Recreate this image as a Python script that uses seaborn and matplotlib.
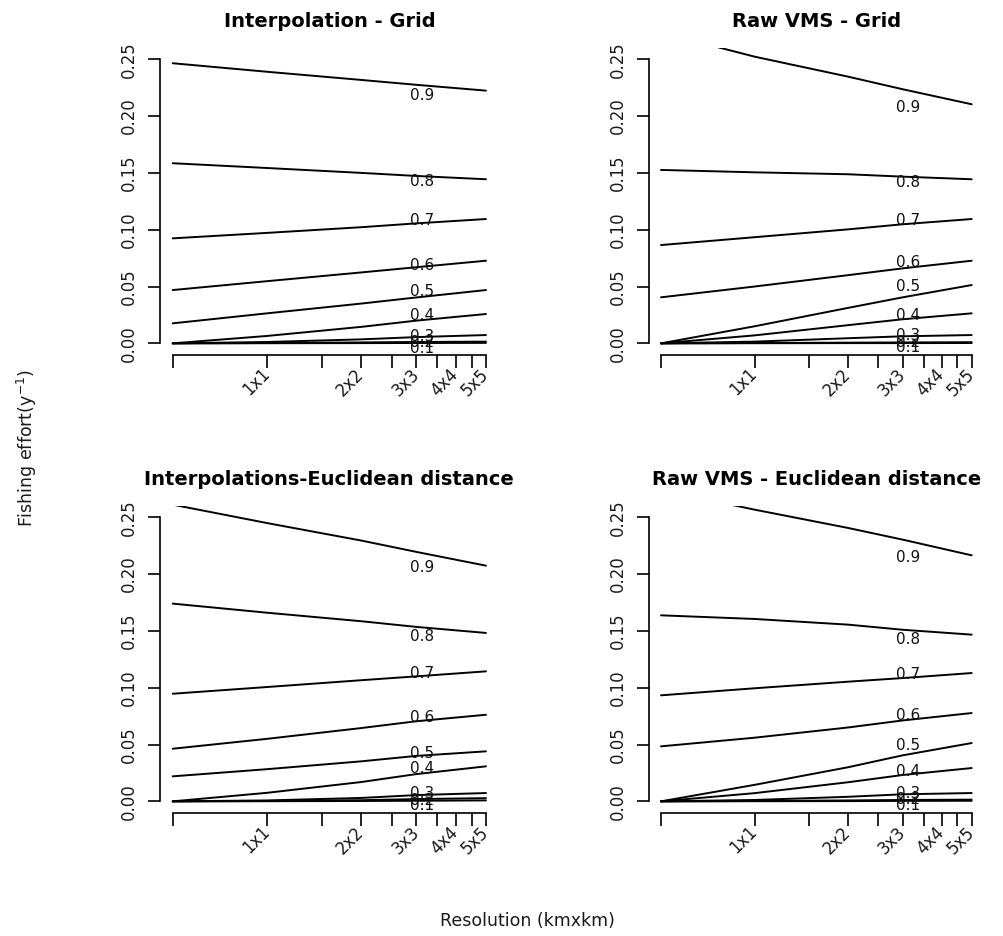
import matplotlib
matplotlib.use("Agg")
import matplotlib.pyplot as plt
import matplotlib.transforms as mtransforms
from matplotlib.ticker import NullLocator, FixedLocator
import pandas as pd
import seaborn as sns

# ---------------------------------------------------------------------------
# Data: fishing effort (y^-1) at which each cumulative-proportion contour
# is reached, sampled at a few grid resolutions (km side length).
# ---------------------------------------------------------------------------
resolution_km = [0.5, 1, 2, 3, 5]
levels = [0.1, 0.2, 0.3, 0.4, 0.5, 0.6, 0.7, 0.8, 0.9]

# rows follow `levels`, columns follow `resolution_km`
interp_grid = [
    [0.0, 0.0001, 0.0002, 0.0003, 0.0004],
    [0.0, 0.0003, 0.0008, 0.0012, 0.0015],
    [0.0, 0.0012, 0.0035, 0.0055, 0.0073],
    [0.0, 0.0065, 0.0145, 0.0200, 0.0258],
    [0.0176, 0.0264, 0.0350, 0.0404, 0.0469],
    [0.0469, 0.0547, 0.0624, 0.0670, 0.0727],
    [0.0924, 0.0972, 0.1022, 0.1056, 0.1094],
    [0.1585, 0.1543, 0.1500, 0.1473, 0.1444],
    [0.2465, 0.2390, 0.2318, 0.2275, 0.2224],
]

raw_grid = [
    [0.0, 0.0001, 0.0002, 0.0002, 0.0003],
    [0.0, 0.0003, 0.0006, 0.0008, 0.0010],
    [0.0, 0.0015, 0.0045, 0.0062, 0.0073],
    [0.0, 0.0070, 0.0160, 0.0212, 0.0264],
    [0.0, 0.0150, 0.0312, 0.0405, 0.0513],
    [0.0405, 0.0500, 0.0600, 0.0660, 0.0727],
    [0.0865, 0.0934, 0.1003, 0.1048, 0.1094],
    [0.1526, 0.1505, 0.1488, 0.1467, 0.1444],
    [0.2735, 0.2523, 0.2347, 0.2236, 0.2104],
]

interp_eucl = [
    [0.0, 0.0001, 0.0003, 0.0005, 0.0008],
    [0.0, 0.0003, 0.0010, 0.0020, 0.0028],
    [0.0, 0.0008, 0.0030, 0.0055, 0.0073],
    [0.0, 0.0075, 0.0170, 0.0240, 0.0308],
    [0.0220, 0.0283, 0.0352, 0.0400, 0.0440],
    [0.0463, 0.0550, 0.0645, 0.0705, 0.0762],
    [0.0947, 0.1006, 0.1066, 0.1100, 0.1144],
    [0.1740, 0.1660, 0.1585, 0.1535, 0.1482],
    [0.2611, 0.2449, 0.2295, 0.2195, 0.2074],
]

raw_eucl = [
    [0.0, 0.0001, 0.0002, 0.0004, 0.0005],
    [0.0, 0.0003, 0.0008, 0.0012, 0.0015],
    [0.0, 0.0012, 0.0040, 0.0062, 0.0073],
    [0.0, 0.0072, 0.0168, 0.0232, 0.0293],
    [0.0, 0.0145, 0.0300, 0.0405, 0.0513],
    [0.0484, 0.0560, 0.0650, 0.0712, 0.0777],
    [0.0933, 0.0995, 0.1053, 0.1085, 0.1129],
    [0.1637, 0.1605, 0.1555, 0.1510, 0.1467],
    [0.2740, 0.2567, 0.2406, 0.2303, 0.2165],
]

panel_titles = [
    "Interpolation - Grid",
    "Raw VMS - Grid",
    "Interpolations-Euclidean distance",
    "Raw VMS - Euclidean distance",
]

# contour label placement (effort value of each label, ordered like `levels`)
label_x = 3.12
label_y = [
    [-0.0044, 0.0005, 0.0064, 0.0249, 0.0454, 0.0689, 0.1085, 0.1423, 0.2185],
    [-0.0040, 0.0010, 0.0073, 0.0249, 0.0504, 0.0713, 0.1085, 0.1414, 0.2077],
    [-0.0040, 0.0011, 0.0073, 0.0293, 0.0419, 0.0739, 0.1129, 0.1452, 0.2054],
    [-0.0037, 0.0020, 0.0073, 0.0264, 0.0493, 0.0757, 0.1115, 0.1423, 0.2150],
]

x_ticks = [0.5, 1, 1.5, 2, 2.5, 3, 3.5, 4, 4.5, 5]
x_labels = ["1x1", "2x2", "3x3", "4x4", "5x5"]
x_label_pos = [1, 2, 3, 4, 5]
y_ticks = [0.0, 0.05, 0.10, 0.15, 0.20, 0.25]

# ---------------------------------------------------------------------------
sns.set_style("ticks")
plt.rcParams["font.family"] = ["DejaVu Sans"]
plt.rcParams["axes.linewidth"] = 1.2

W, H = 1004, 936
fig = plt.figure(figsize=(W / 100, H / 100), dpi=100)

# panel rectangles in pixels: left, top, width, height
rects = [
    (160.2, 47.9, 338.3, 306.8),
    (648.6, 47.9, 335.5, 306.8),
    (160.2, 505.9, 338.3, 306.8),
    (648.6, 505.9, 335.5, 306.8),
]

datasets = [interp_grid, raw_grid, interp_eucl, raw_eucl]
text_color = "#1a1a1a"

for rect, data, title, lab_y in zip(rects, datasets, panel_titles, label_y):
    l, t, w, h = rect
    ax = fig.add_axes([l / W, 1 - (t + h) / H, w / W, h / H])

    rows = []
    for lev, efforts in zip(levels, data):
        for r, e in zip(resolution_km, efforts):
            rows.append({"resolution": r, "effort": e, "level": lev})
    df = pd.DataFrame(rows)

    ax.set_xscale("log")
    sns.lineplot(data=df, x="resolution", y="effort", units="level",
                 estimator=None, color="black", linewidth=1.4, ax=ax,
                 legend=False, sort=True)

    ax.set_xlim(0.5 / 10 ** 0.04, 5 * 10 ** 0.04)
    ax.set_ylim(-0.01, 0.26)

    for side in ("top", "right"):
        ax.spines[side].set_visible(False)
    ax.spines["left"].set_bounds(0, 0.25)
    ax.spines["bottom"].set_bounds(0.5, 5)
    ax.spines["left"].set_color("black")
    ax.spines["bottom"].set_color("black")

    ax.xaxis.set_major_locator(FixedLocator(x_ticks))
    ax.xaxis.set_minor_locator(NullLocator())
    ax.set_xticklabels([""] * len(x_ticks))
    ax.set_yticks(y_ticks)
    ax.set_yticklabels([f"{v:.2f}" for v in y_ticks], rotation=90,
                       va="center")
    ax.tick_params(axis="both", direction="out", length=9, width=1.2,
                   color="black", labelsize=11.9, labelcolor=text_color)
    ax.tick_params(axis="y", pad=7)
    ax.set_xlabel("")
    ax.set_ylabel("")

    # rotated resolution labels under the axis
    trans = mtransforms.blended_transform_factory(ax.transData, ax.transAxes)
    trans = trans + mtransforms.ScaledTranslation(0, -12 / 72, fig.dpi_scale_trans)
    for xp, txt in zip(x_label_pos, x_labels):
        ax.text(xp, 0, txt, transform=trans, rotation=45, ha="right",
                va="center", rotation_mode="anchor", fontsize=11.9,
                color=text_color, clip_on=False)

    # contour level labels
    for lev, yy in zip(levels, lab_y):
        ax.text(label_x, yy, f"{lev:.1f}", ha="center", va="center",
                fontsize=11, color="#111111", clip_on=False)

    ax.text(0.5, 1 + 26 / h, title, transform=ax.transAxes, ha="center",
            va="center", fontsize=14, fontweight="bold", color="black")

fig.text(0.027, 1 - 448 / H, "Fishing effort(y$^{-1}$)", rotation=90,
         ha="center", va="center", fontsize=12.5, color=text_color)
fig.text(527.5 / W, 1 - 921 / H, "Resolution (kmxkm)", ha="center",
         va="center", fontsize=12.5, color=text_color)

fig.savefig("out.png", dpi=100, facecolor="white")
